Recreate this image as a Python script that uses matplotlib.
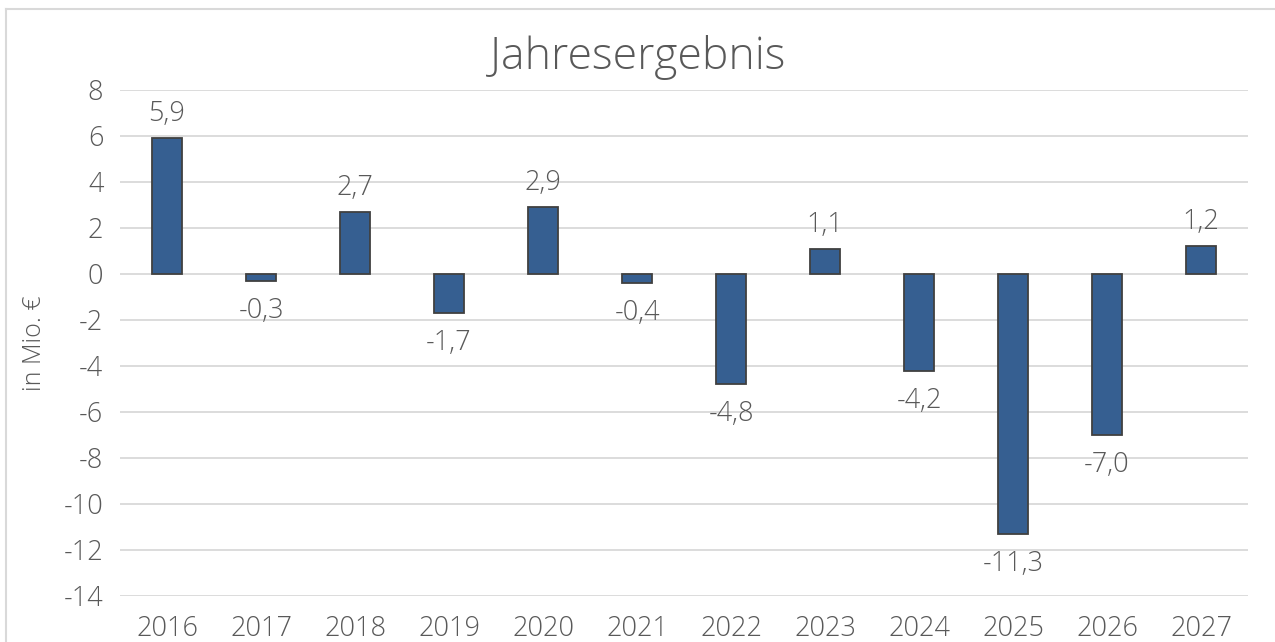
import matplotlib
matplotlib.use("Agg")
import matplotlib.pyplot as plt
from matplotlib.lines import Line2D

years = ["2016", "2017", "2018", "2019", "2020", "2021", "2022", "2023", "2024", "2025", "2026", "2027"]
values = [5.9, -0.3, 2.7, -1.7, 2.9, -0.4, -4.8, 1.1, -4.2, -11.3, -7.0, 1.2]
yticks = [8, 6, 4, 2, 0, -2, -4, -6, -8, -10, -12, -14]

plt.rcParams['font.family'] = ['Open Sans', 'DejaVu Sans']
txt = '#595959'

fig = plt.figure(figsize=(12.75, 6.42), dpi=100)
ax = fig.add_axes([120/1275, 1-596/642, (1248-120)/1275, (596-90)/642])

x = list(range(len(years)))
ax.bar(x, values, width=0.32, color='#365F91', edgecolor='#404040', linewidth=1.3, zorder=3)

for xi, v in zip(x, values):
    lab = f"{v:.1f}".replace('.', ',')
    if v >= 0:
        ax.annotate(lab, (xi, v), xytext=(0, 10), textcoords='offset pixels',
                    ha='center', va='bottom', fontsize=19.5, color=txt, fontweight='light')
    else:
        ax.annotate(lab, (xi, v), xytext=(0, -16), textcoords='offset pixels',
                    ha='center', va='top', fontsize=19.5, color=txt, fontweight='light')

ax.set_xlim(-0.5, len(years) - 0.5)
ax.set_ylim(-14, 8)
ax.set_yticks(yticks)
ax.set_yticklabels([str(t) for t in yticks])
ax.set_xticks(x)
ax.set_xticklabels(years)
ax.tick_params(axis='both', length=0, labelsize=19.5, labelcolor=txt)
ax.tick_params(axis='x', pad=14)
ax.tick_params(axis='y', pad=12)
for lbl in ax.get_xticklabels() + ax.get_yticklabels():
    lbl.set_fontweight('light')
ax.grid(axis='y', color='#D9D9D9', linewidth=1.3, zorder=0)
ax.set_axisbelow(True)
for s in ax.spines.values():
    s.set_visible(False)

ax.set_ylabel("in Mio. €", fontsize=18, color=txt, fontweight='light', labelpad=12)
fig.text(0.5, 1-58/642, "Jahresergebnis", ha='center', va='center', fontsize=32,
         color=txt, fontweight='light')

# outer chart border (cropped at right/bottom)
fig.add_artist(Line2D([6/1275, 6/1275], [0, 1-9/642], transform=fig.transFigure, color='#D9D9D9', linewidth=1.5))
fig.add_artist(Line2D([6/1275, 1], [1-9/642, 1-9/642], transform=fig.transFigure, color='#D9D9D9', linewidth=1.5))

fig.savefig("out.png", dpi=100, facecolor='white')
